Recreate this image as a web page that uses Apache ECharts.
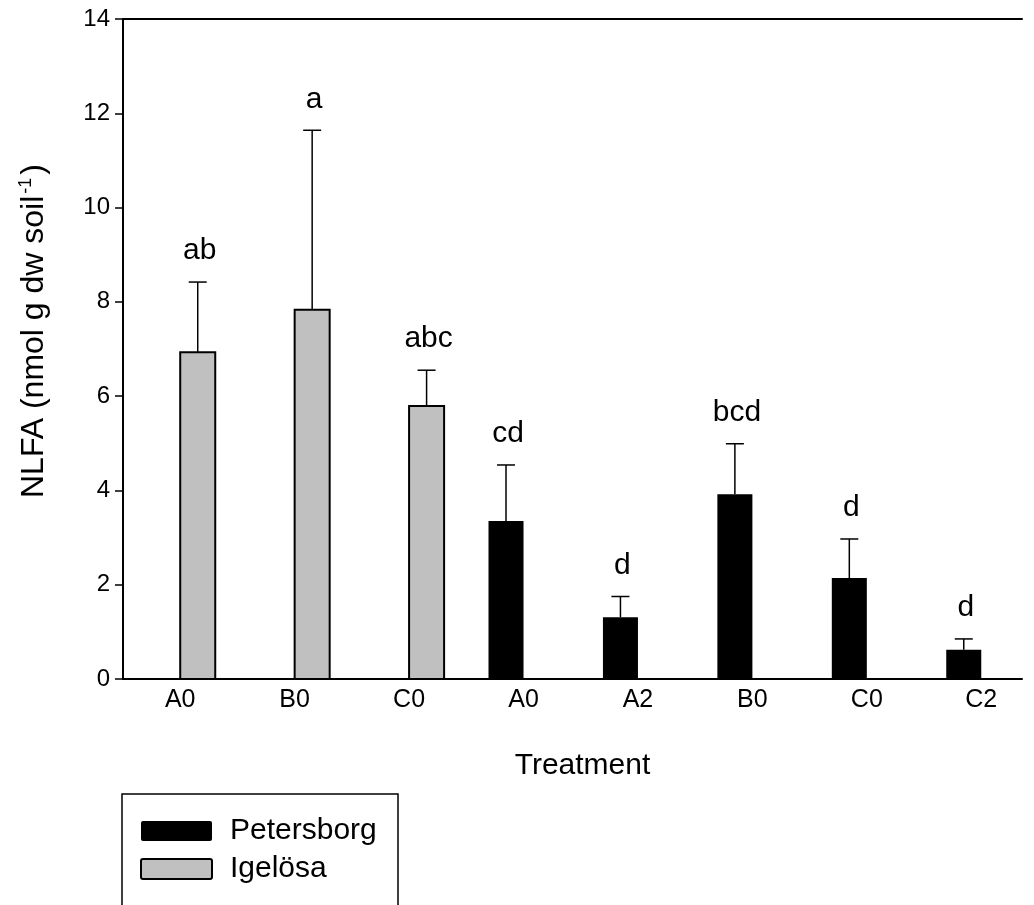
<!DOCTYPE html>
<html>
<head>
<meta charset="utf-8">
<script src="https://cdn.jsdelivr.net/npm/echarts@6/dist/echarts.min.js"></script>
<style>
html,body{margin:0;padding:0;background:#fff;}
#chart{width:1034px;height:905px;}
</style>
</head>
<body>
<div id="chart"></div>
<script>
// ---- data ----
const categories = ['A0', 'B0', 'C0', 'A0', 'A2', 'B0', 'C0', 'C2'];
const igelosaMean   = [6.93, 7.83, 5.79, null, null, null, null, null];
const igelosaErr    = [1.49, 3.81, 0.76, null, null, null, null, null];
const igelosaLetter = ['ab', 'a', 'abc', '', '', '', '', ''];
const petersborgMean   = [null, null, null, 3.35, 1.31, 3.92, 2.14, 0.62];
const petersborgErr    = [null, null, null, 1.19, 0.44, 1.07, 0.83, 0.23];
const petersborgLetter = ['', '', '', 'cd', 'd', 'bcd', 'd', 'd'];
const yTicks = [0, 2, 4, 6, 8, 10, 12, 14];

const FONT = '"Liberation Sans", Arial, sans-serif';
const GRAY = '#c0c0c0';
const SWATCH = 'path://M2,0 L69,0 Q71,0 71,2 L71,18 Q71,20 69,20 L2,20 Q0,20 0,18 L0,2 Q0,0 2,0 Z';

function buildData(means, errs, letters) {
  const out = [];
  means.forEach((m, i) => { if (m != null) out.push([i, m, errs[i], letters[i]]); });
  return out;
}

function makeRender(side, fill, withBorder) {
  return function (params, api) {
    const x = api.value(0), v = api.value(1), e = api.value(2);
    const letter = api.value(3);
    const base = api.coord([x, 0]);
    const top = api.coord([x, v]);
    const errTop = api.coord([x, v + e]);
    const w = api.size([0.306, 0])[0];
    const x0 = side < 0 ? base[0] - w : base[0];
    const cx = x0 + w / 2;
    const children = [
      {
        type: 'line',
        shape: { x1: cx, y1: top[1], x2: cx, y2: errTop[1] },
        style: { stroke: '#000', lineWidth: 1.5 }
      },
      {
        type: 'line',
        shape: { x1: cx - 9, y1: errTop[1], x2: cx + 9, y2: errTop[1] },
        style: { stroke: '#000', lineWidth: 1.5 }
      },
      {
        type: 'rect',
        shape: { x: x0, y: top[1], width: w, height: base[1] - top[1] },
        style: withBorder ? { fill: fill, stroke: '#000', lineWidth: 2 } : { fill: fill }
      },
      {
        type: 'text',
        x: cx + 2, y: errTop[1] - 16,
        style: {
          text: letter, textAlign: 'center', textVerticalAlign: 'bottom',
          fontSize: 30, fontFamily: FONT, fill: '#000'
        }
      }
    ];
    return { type: 'group', children: children };
  };
}

const chart = echarts.init(document.getElementById('chart'));
chart.setOption({
  backgroundColor: '#fff',
  animation: false,
  textStyle: { fontFamily: FONT, color: '#000' },
  grid: { left: 123, right: 12, top: 19, bottom: 226, containLabel: false },
  legend: {
    orient: 'vertical',
    left: 140, top: 816,
    itemWidth: 71, itemHeight: 20, itemGap: 8,
    padding: 0,
    textStyle: { fontSize: 30, fontFamily: FONT, color: '#000', padding: [0, 0, 0, 13] },
    data: [
      { name: 'Petersborg', icon: SWATCH, itemStyle: { color: '#000' } },
      { name: 'Igelösa', icon: SWATCH, itemStyle: { color: GRAY, borderColor: '#000', borderWidth: 2 } }
    ]
  },
  xAxis: [
    {
      type: 'value', min: -0.5, max: 7.356,
      position: 'bottom',
      axisLine: { show: true, onZero: false, lineStyle: { color: '#000', width: 2 } },
      axisTick: { show: false },
      splitLine: { show: false },
      axisLabel: {
        customValues: categories.map((c, i) => i),
        formatter: v => categories[Math.round(v)],
        fontSize: 25, fontFamily: FONT, color: '#000', margin: 9
      },
      name: 'Treatment', nameLocation: 'middle', nameGap: 72,
      nameTextStyle: { fontSize: 30, fontFamily: FONT, color: '#000', padding: [0, 0, 0, 20] }
    },
    {
      type: 'value', min: -0.5, max: 7.356,
      position: 'top',
      axisLine: { show: true, onZero: false, lineStyle: { color: '#000', width: 2 } },
      axisTick: { show: false }, axisLabel: { show: false }, splitLine: { show: false }
    }
  ],
  yAxis: {
    type: 'value', min: 0, max: 14, interval: 2,
    axisLine: { show: true, onZero: false, lineStyle: { color: '#000', width: 2 } },
    axisTick: { show: true, length: 8, inside: false, lineStyle: { color: '#000', width: 1.5 } },
    splitLine: { show: false },
    axisLabel: {
      formatter: v => (yTicks.indexOf(v) >= 0 ? String(v) : ''),
      fontSize: 24, fontFamily: FONT, color: '#000', margin: 13
    },
    name: '{m|NLFA (nmol g dw soil}{s|-1}{m|)}',
    nameLocation: 'middle', nameRotate: 90, nameGap: 72,
    nameTextStyle: {
      fontFamily: FONT, color: '#000', padding: [0, 0, 0, 36],
      rich: {
        m: { fontSize: 32, fontFamily: FONT, color: '#000' },
        s: { fontSize: 18, fontFamily: FONT, color: '#000', verticalAlign: 'top', padding: [0, 3, 16, 2] }
      }
    }
  },
  graphic: [
    {
      type: 'rect',
      shape: { x: 122, y: 794, width: 276, height: 130 },
      style: { fill: 'none', stroke: '#000', lineWidth: 1.5 },
      silent: true
    }
  ],
  series: [
    {
      name: 'Petersborg', type: 'custom',
      itemStyle: { color: '#000' },
      renderItem: makeRender(-1, '#000', false),
      encode: { x: 0, y: [1] },
      data: buildData(petersborgMean, petersborgErr, petersborgLetter),
      clip: false
    },
    {
      name: 'Igelösa', type: 'custom',
      itemStyle: { color: GRAY },
      renderItem: makeRender(1, GRAY, true),
      encode: { x: 0, y: [1] },
      data: buildData(igelosaMean, igelosaErr, igelosaLetter),
      clip: false
    }
  ]
});
</script>
</body>
</html>
